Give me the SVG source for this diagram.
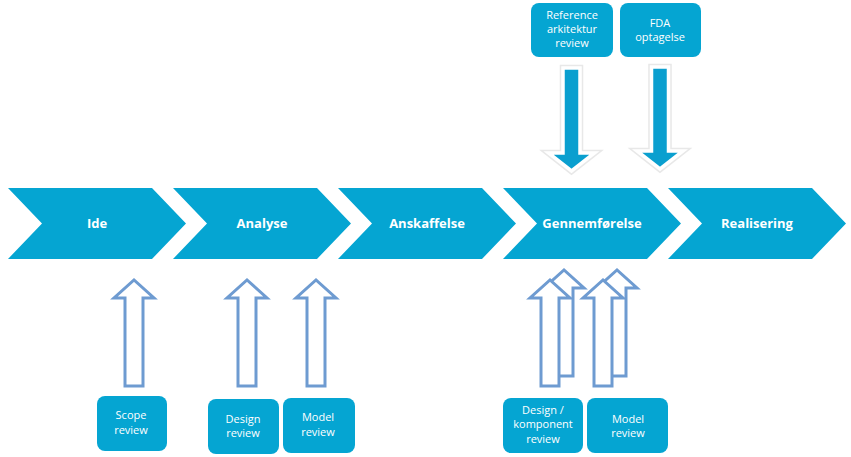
<svg xmlns="http://www.w3.org/2000/svg" width="851" height="457" viewBox="0 0 851 457">
<defs>
<style>
.chev{fill:#05A5D2;}
.ct{font-family:"Open Sans","Liberation Sans",sans-serif;font-weight:bold;font-size:13px;fill:#fff;text-anchor:middle;dominant-baseline:central;}
.box{fill:#05A5D2;}
.bt{font-family:"Open Sans","Liberation Sans",sans-serif;font-size:11px;fill:#fff;text-anchor:middle;}
.up{fill:#fff;stroke:#6E9BD1;stroke-width:3;stroke-linejoin:miter;}
.dnglow{fill:none;stroke:#E8E8E8;stroke-width:6.5;stroke-linejoin:miter;}
.dn{fill:#0A9FCF;stroke:#fff;stroke-width:3.5;stroke-linejoin:miter;}
</style>
</defs>
<rect width="851" height="457" fill="#fff"/>
<g id="chevrons">
<g id="ide"><path class="chev" d="M8,188 L152,188 L186,223.5 L152,259 L8,259 L42,223.5 Z"/><text class="ct" x="97" y="223">Ide</text></g>
<g id="analyse"><path class="chev" d="M173,188 L317,188 L351,223.5 L317,259 L173,259 L207,223.5 Z"/><text class="ct" x="262" y="223">Analyse</text></g>
<g id="anskaffelse"><path class="chev" d="M338,188 L482,188 L516,223.5 L482,259 L338,259 L372,223.5 Z"/><text class="ct" x="427" y="223">Anskaffelse</text></g>
<g id="gennemforelse"><path class="chev" d="M503,188 L647,188 L681,223.5 L647,259 L503,259 L537,223.5 Z"/><text class="ct" x="592" y="223">Gennemførelse</text></g>
<g id="realisering"><path class="chev" d="M668,188 L812,188 L846,223.5 L812,259 L668,259 L702,223.5 Z"/><text class="ct" x="757" y="223">Realisering</text></g>
</g>
<g id="top-boxes">
<g id="ref-arch"><rect class="box" x="531" y="3" width="82" height="54" rx="8"/><text class="bt" x="572" y="19">Reference</text><text class="bt" x="572" y="33">arkitektur</text><text class="bt" x="572" y="47">review</text></g>
<g id="fda"><rect class="box" x="620" y="3" width="81" height="54" rx="8"/><text class="bt" x="660" y="27">FDA</text><text class="bt" x="660" y="41">optagelse</text></g>
</g>
<g id="bottom-boxes">
<g id="scope"><rect class="box" x="97" y="396" width="70" height="55" rx="8"/><text class="bt" x="131" y="419">Scope</text><text class="bt" x="131" y="434">review</text></g>
<g id="design"><rect class="box" x="208" y="399" width="71" height="55" rx="8"/><text class="bt" x="243" y="423">Design</text><text class="bt" x="243" y="437">review</text></g>
<g id="model1"><rect class="box" x="283" y="398" width="72" height="55" rx="8"/><text class="bt" x="318" y="421">Model</text><text class="bt" x="318" y="436">review</text></g>
<g id="design-komp"><rect class="box" x="503" y="398" width="80" height="55" rx="8"/><text class="bt" x="543" y="414">Design /</text><text class="bt" x="543" y="428">komponent</text><text class="bt" x="543" y="443">review</text></g>
<g id="model2"><rect class="box" x="587" y="398" width="81" height="55" rx="8"/><text class="bt" x="628" y="423">Model</text><text class="bt" x="628" y="437">review</text></g>
</g>
<g id="connectors">
<path class="dnglow" d="M563,68 L580,68 L580,153 L594.5,153 L571.5,171 L548.5,153 L563,153 Z"/>
<path class="dn" d="M563,68 L580,68 L580,153 L594.5,153 L571.5,171 L548.5,153 L563,153 Z"/>
<path class="dnglow" d="M651.5,67 L668.5,67 L668.5,151 L683,151 L660,169 L637,151 L651.5,151 Z"/>
<path class="dn" d="M651.5,67 L668.5,67 L668.5,151 L683,151 L660,169 L637,151 L651.5,151 Z"/>
<path class="up" d="M125,386 L125,298 L114,298 L134,280 L154,298 L143,298 L143,386 Z"/>
<path class="up" d="M238,386 L238,298 L227,298 L247,280 L267,298 L256,298 L256,386 Z"/>
<path class="up" d="M307,386 L307,298 L296,298 L316,280 L336,298 L325,298 L325,386 Z"/>
<path class="up" d="M555,376 L555,288 L544,288 L564,270 L584,288 L573,288 L573,376 Z"/>
<path class="up" d="M541,386 L541,298 L530,298 L550,280 L570,298 L559,298 L559,386 Z"/>
<path class="up" d="M608,376 L608,288 L597,288 L617,270 L637,288 L626,288 L626,376 Z"/>
<path class="up" d="M594,386 L594,298 L583,298 L603,280 L623,298 L612,298 L612,386 Z"/>
</g>
</svg>
